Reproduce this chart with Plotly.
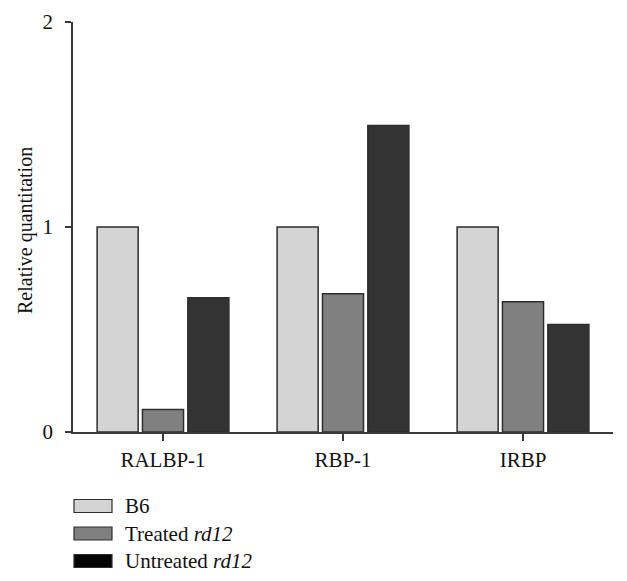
import plotly.graph_objects as go

genes = ["RALBP-1", "RBP-1", "IRBP"]
b6 = [1.0, 1.0, 1.0]
treated = [0.11, 0.675, 0.635]
untreated = [0.655, 1.495, 0.525]

names = ["B6", "Treated <i>rd12</i>", "Untreated <i>rd12</i>"]
values = [b6, treated, untreated]
bar_colors = ["#d4d4d4", "#808080", "#333333"]
key_colors = ["#d4d4d4", "#808080", "#050505"]

W, H = 627, 581
L, R, T, B = 73, 14, 22, 149
pw, ph = W - L - R, H - T - B

fig = go.Figure()
for name, vals, col in zip(names, values, bar_colors):
    fig.add_trace(go.Bar(
        x=genes, y=vals, name=name, showlegend=False,
        marker=dict(color=col, line=dict(color="#2e2e2e", width=1.5)),
    ))

# legend drawn by hand so the swatches are wide boxes like the original
def px_x(x):
    return (x - L) / pw

def px_y(y):
    return (H - B - y) / ph

row_y = [506, 533.5, 561]
for name, col, yc in zip(names, key_colors, row_y):
    fig.add_shape(type="rect", xref="paper", yref="paper",
                  x0=px_x(74), x1=px_x(112), y0=px_y(yc + 6.5), y1=px_y(yc - 6.5),
                  fillcolor=col, line=dict(color="#2e2e2e", width=1.2))
    fig.add_annotation(xref="paper", yref="paper", x=px_x(123), y=px_y(yc),
                       text=name, showarrow=False, xanchor="left", yanchor="middle",
                       font=dict(size=21))

fig.add_annotation(xref="paper", yref="paper", x=px_x(25), y=px_y(231),
                   text="Relative quantitation", textangle=-90, showarrow=False,
                   xanchor="center", yanchor="middle", font=dict(size=20))

fig.update_layout(
    width=W, height=H,
    margin=dict(l=L, r=R, t=T, b=B),
    plot_bgcolor="white", paper_bgcolor="white",
    font=dict(family="Liberation Serif", size=21, color="#111"),
    barmode="group", bargap=0.244, bargroupgap=0.095,
    showlegend=False,
)
fig.update_xaxes(
    showline=True, linecolor="#3a3a3a", linewidth=1.5,
    ticks="outside", ticklen=7, tickcolor="#3a3a3a", tickwidth=1.5,
    range=[-0.5, 2.5], automargin=False, ticklabelstandoff=1,
)
fig.update_yaxes(
    range=[0, 2], tickvals=[0, 1, 2], showgrid=False, zeroline=False,
    showline=True, linecolor="#3a3a3a", linewidth=1.5,
    ticks="outside", ticklen=6, tickcolor="#3a3a3a", tickwidth=1.5,
    automargin=False, ticklabelstandoff=8,
)
fig.write_html("out.html", config={"displayModeBar": False},
               post_script="document.body.style.margin='0';")
